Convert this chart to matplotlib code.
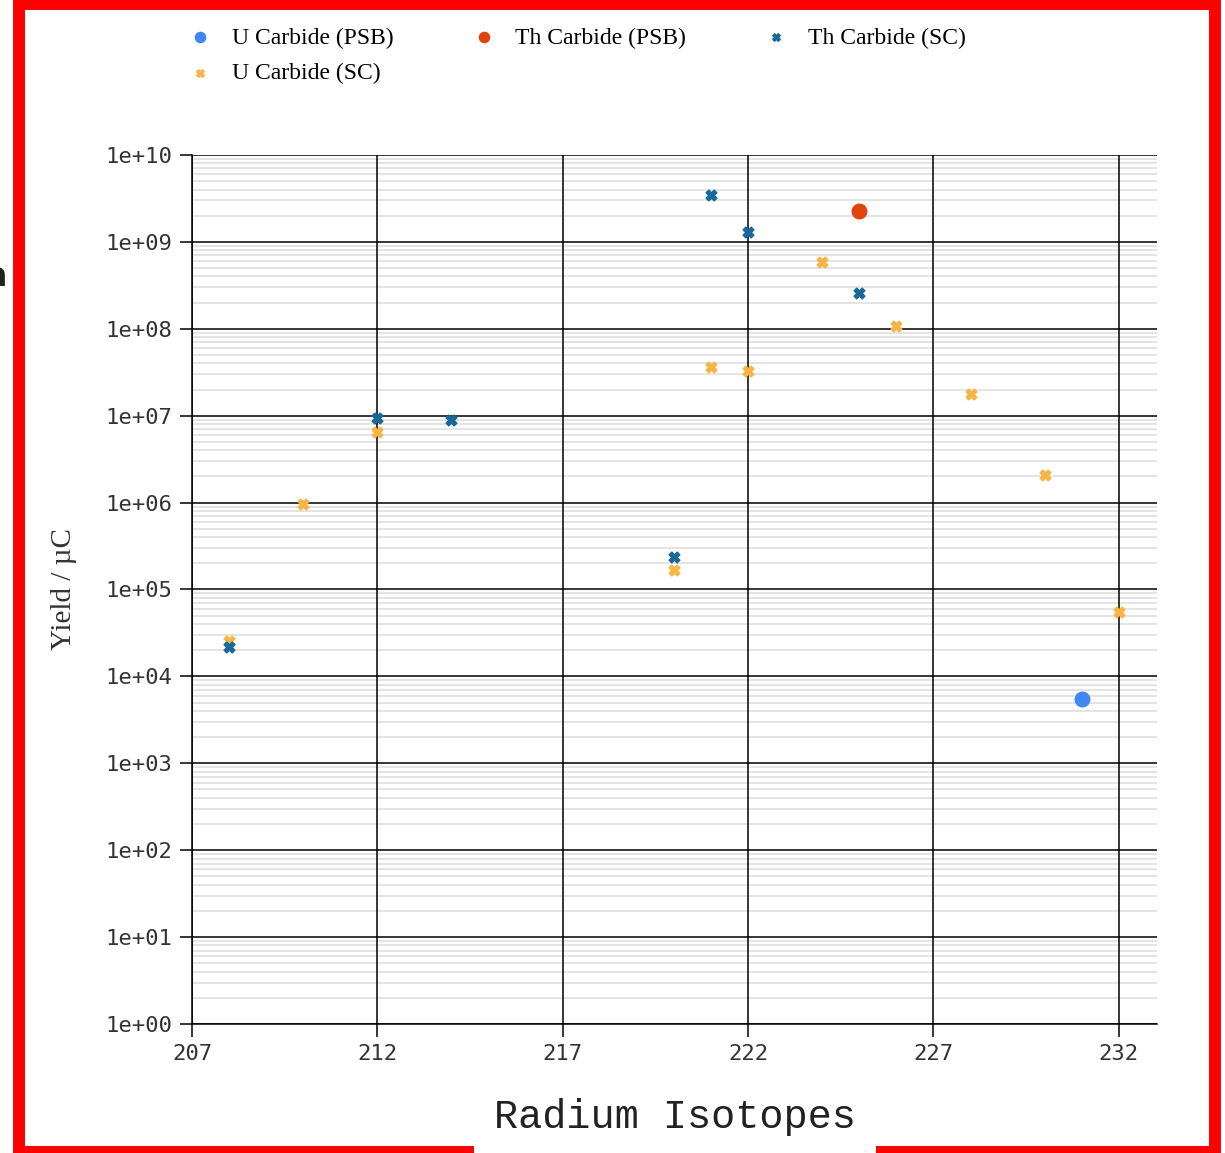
import numpy as np
import matplotlib
matplotlib.use("Agg")
import matplotlib.pyplot as plt
from matplotlib.patches import Rectangle
from matplotlib.ticker import FixedLocator, LogLocator, FuncFormatter, NullFormatter

# radium yields per uC for each target / ion source
u_psb_mass = [231]
u_psb_yield = [5.5e3]

th_psb_mass = [225]
th_psb_yield = [2.27e9]

th_sc_mass = [208, 212, 214, 220, 221, 222, 225]
th_sc_yield = [2.18e4, 9.4e6, 8.9e6, 2.37e5, 3.47e9, 1.3e9, 2.58e8]

u_sc_mass = [208, 210, 212, 220, 221, 222, 224, 226, 228, 230, 232]
u_sc_yield = [2.55e4, 9.6e5, 6.5e6, 1.68e5, 3.63e7, 3.27e7, 5.87e8, 1.08e8, 1.78e7, 2.08e6, 5.5e4]

x_ticks = [207, 212, 217, 222, 227, 232]

fig = plt.figure(figsize=(12.25, 11.53), dpi=100)
ax = fig.add_axes([0.1567, 0.1119, 0.7878, 0.7537])

h1 = ax.scatter(u_psb_mass, u_psb_yield, s=110, marker='o', color='#3f88f2',
                label='U Carbide (PSB)', zorder=5)
h2 = ax.scatter(th_psb_mass, th_psb_yield, s=110, marker='o', color='#e0440e',
                label='Th Carbide (PSB)', zorder=5)
h3 = ax.scatter(th_sc_mass, th_sc_yield, s=60, marker='X', color='#17699a',
                label='Th Carbide (SC)', zorder=5)
h4 = ax.scatter(u_sc_mass, u_sc_yield, s=60, marker='X', color='#f8b545',
                label='U Carbide (SC)', zorder=4)

ax.set_yscale('log')
ax.set_xlim(207, 233.03)
ax.set_ylim(1, 1e10)

ax.xaxis.set_major_locator(FixedLocator(x_ticks))
ax.yaxis.set_major_locator(LogLocator(base=10, numticks=20))
ax.yaxis.set_minor_locator(LogLocator(base=10, subs=np.arange(2, 10), numticks=100))
ax.yaxis.set_major_formatter(FuncFormatter(lambda v, p: f"{v:.0e}"))
ax.yaxis.set_minor_formatter(NullFormatter())

# light minor lines underneath, black major grid on top of them
minor_locs = [v for v in ax.yaxis.get_minorticklocs() if 1 < v < 1e10]
ax.hlines(minor_locs, 207, 233.03, colors='#dcdcdc', linewidth=1.1, zorder=0.2)
ax.grid(which='major', axis='both', color='black', linewidth=1.1)
ax.set_axisbelow(True)

for side in ['top', 'right']:
    ax.spines[side].set_visible(False)
for side in ['left', 'bottom']:
    ax.spines[side].set_linewidth(1.1)

ax.tick_params(which='major', length=9, width=1.1, pad=5.5, labelsize=16,
               labelcolor='#333333')
ax.tick_params(which='minor', length=0)
for lbl in ax.get_xticklabels() + ax.get_yticklabels():
    lbl.set_fontfamily('DejaVu Sans Mono')

ax.set_ylabel('Yield / µC', fontsize=21, family='Liberation Serif', color='#333333',
              labelpad=20)

# legend laid out row by row: three across, then the fourth below
fig.legend([h1, h4, h2, h3],
           ['U Carbide (PSB)', 'U Carbide (SC)', 'Th Carbide (PSB)', 'Th Carbide (SC)'],
           ncol=3, loc='upper left', bbox_to_anchor=(0.1366, 0.995), frameon=False,
           markerscale=0.7, handlelength=1.0, handletextpad=0.85, columnspacing=3.3,
           labelspacing=0.6, prop={'family': 'Liberation Serif', 'size': 17})

# red frame round the whole figure
fig.add_artist(Rectangle((19 / 1225, 1.5 / 1153), (1215 - 19) / 1225, (1149 - 1.5) / 1153,
                         transform=fig.transFigure, fill=False, edgecolor='red',
                         linewidth=8.6, zorder=10))

fig.text(0.551, 1 - 1117 / 1153, 'Radium Isotopes', ha='center', va='center',
         fontsize=29, family='Liberation Mono', color='#222222', zorder=20,
         bbox=dict(boxstyle='square,pad=0.5', facecolor='white', edgecolor='none'))

fig.text(7 / 1225, 1 - 277 / 1153, 'a', ha='right', va='center', fontsize=24,
         fontweight='bold', family='DejaVu Sans', color='#222222')

fig.savefig('out.png', dpi=100)
